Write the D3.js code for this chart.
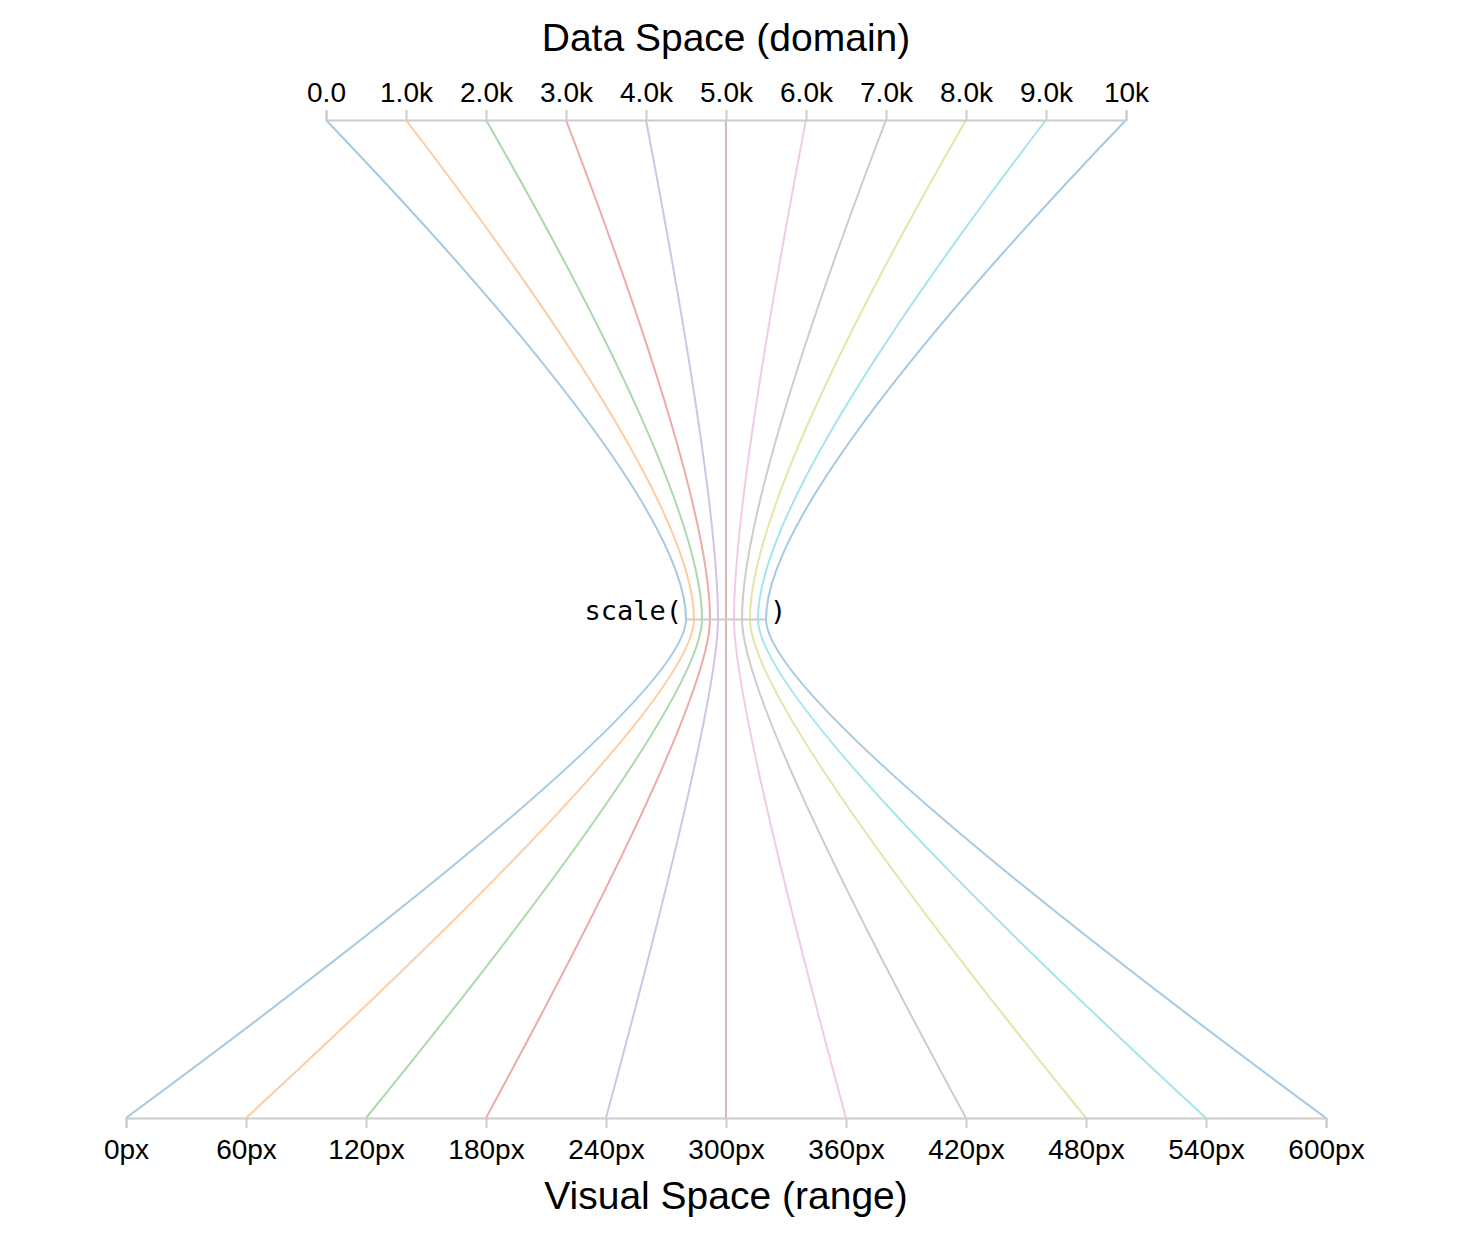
<!DOCTYPE html>
<html lang="en">
<head>
    <meta charset="UTF-8">
    <meta name="viewport" content="width=device-width, initial-scale=1.0">
    <script src="https://cdn.jsdelivr.net/npm/d3@7"></script>
    <title>Data Space to Visual Space</title>
    <style>
        html,
        body {
            margin: 0px;
            padding: 0px;
            background-color: #ffffff;
        }
        svg {
            display: block;
            font-family: "Liberation Sans", Arial, Helvetica, sans-serif;
        }
        .axis path.domain,
        .axis .tick line {
            stroke: #cccccc;
            stroke-width: 2px;
        }
        .axis text {
            fill: #000;
        }
        .title {
            font-size: 39px;
            fill: #000;
        }
        .scale-label {
            font-family: "DejaVu Sans Mono", monospace;
            font-size: 27px;
            fill: #000;
        }
    </style>
</head>
<body>
    <div id="chart"></div>
    <script>

        // values that get pushed through the scale
        const domainValues = [0, 1000, 2000, 3000, 4000, 5000, 6000, 7000, 8000, 9000, 10000];
        const domainExtent = [0, 10000];
        const rangeExtent = [0, 600];
        const rangeTicks = [0, 60, 120, 180, 240, 300, 360, 420, 480, 540, 600];

        const topTitle = "Data Space (domain)";
        const bottomTitle = "Visual Space (range)";

        let width = 1460;
        let height = 1234;

        let svg = d3.select('#chart').append('svg')
            .attr('width', width)
            .attr('height', height);

        // horizontal scales for the three rows
        let xDomain = d3.scaleLinear().domain(domainExtent).range([326, 1126]);
        let xMid = d3.scaleLinear().domain(domainExtent).range([686, 766]);
        let scale = d3.scaleLinear().domain(domainExtent).range(rangeExtent);
        let xRange = d3.scaleLinear().domain(rangeExtent).range([126, 1326]);

        // vertical stages: top axis, bend controls, middle, bottom axis
        let yStage = d3.scaleLinear().domain([0, 1]).range([120, 1118]);
        const yTop = yStage(0);
        const yTopCtrl = yStage(0.377);
        const yMid = yStage(0.5);
        const yBotCtrl = yStage(0.586);
        const yBot = yStage(1);

        let color = d3.scaleOrdinal(d3.schemeCategory10);

        // links from domain value to middle to range value
        svg.append('g')
            .attr('fill', 'none')
            .attr('stroke-width', 2)
            .attr('stroke-opacity', 0.4)
            .selectAll('path')
            .data(domainValues)
            .join('path')
            .attr('stroke', (d, i) => color(i))
            .attr('d', d => {
                const p = d3.path();
                const xt = xDomain(d), xm = xMid(d), xb = xRange(scale(d));
                p.moveTo(xt, yTop);
                p.quadraticCurveTo(xm, yTopCtrl, xm, yMid);
                p.quadraticCurveTo(xm, yBotCtrl, xb, yBot);
                return p.toString();
            });

        // top axis
        svg.append('g')
            .attr('class', 'axis')
            .attr('transform', `translate(0,${yTop})`)
            .call(d3.axisTop(xDomain)
                .tickValues(domainValues)
                .tickFormat(d3.format('.2s'))
                .tickSize(10)
                .tickPadding(8))
            .attr('font-size', 28)
            .attr('font-family', null);

        // middle mini axis
        svg.append('g')
            .attr('class', 'axis')
            .attr('transform', `translate(0,${yMid})`)
            .call(d3.axisBottom(xMid).tickValues([]).tickSizeOuter(0));

        svg.append('text')
            .attr('class', 'scale-label')
            .attr('x', xMid.range()[0] - 4)
            .attr('y', yMid + 1)
            .attr('text-anchor', 'end')
            .text('scale(');

        svg.append('text')
            .attr('class', 'scale-label')
            .attr('x', xMid.range()[1] + 4)
            .attr('y', yMid + 1)
            .attr('text-anchor', 'start')
            .text(')');

        // bottom axis
        svg.append('g')
            .attr('class', 'axis')
            .attr('transform', `translate(0,${yBot})`)
            .call(d3.axisBottom(xRange)
                .tickValues(rangeTicks)
                .tickFormat(d => d + 'px')
                .tickSize(10)
                .tickPadding(11))
            .attr('font-size', 28)
            .attr('font-family', null);

        // titles
        svg.append('text')
            .attr('class', 'title')
            .attr('x', xDomain(5000))
            .attr('y', 51)
            .attr('text-anchor', 'middle')
            .text(topTitle);

        svg.append('text')
            .attr('class', 'title')
            .attr('x', xRange(300))
            .attr('y', 1209)
            .attr('text-anchor', 'middle')
            .text(bottomTitle);

    </script>
</body>
</html>
